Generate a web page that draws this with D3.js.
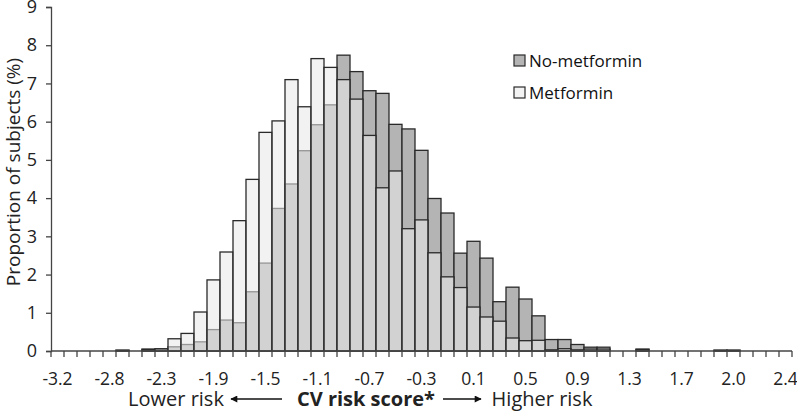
<!DOCTYPE html>
<html>
<head>
<meta charset="utf-8">
<script src="https://cdn.jsdelivr.net/npm/d3@7"></script>
<style>
  body { margin: 0; background: #fff; }
  svg { display: block; font-family: 'Open Sans', 'Noto Sans', sans-serif; }
</style>
</head>
<body>
<div id="chart"></div>
<script>

// bin midpoints of the CV risk score (bin width 0.1)
var categories = [
  -3.15, -3.05, -2.95, -2.85, -2.75, -2.65, -2.55, -2.45, -2.35, -2.25,
  -2.15, -2.05, -1.95, -1.85, -1.75, -1.65, -1.55, -1.45, -1.35, -1.25,
  -1.15, -1.05, -0.95, -0.85, -0.75, -0.65, -0.55, -0.45, -0.35, -0.25,
  -0.15, -0.05, 0.05, 0.15, 0.25, 0.35, 0.45, 0.55, 0.65, 0.75,
  0.85, 0.95, 1.05, 1.15, 1.25, 1.35, 1.45, 1.55, 1.65, 1.75,
  1.85, 1.95, 2.05, 2.15, 2.25, 2.35, 2.45
];

var noMetformin = [
  0, 0, 0, 0, 0, 0.02, 0, 0.05, 0.04, 0.11,
  0.17, 0.24, 0.56, 0.81, 0.74, 1.55, 2.30, 3.73, 4.37, 5.24,
  5.92, 6.44, 7.74, 7.31, 6.81, 6.74, 5.93, 5.81, 5.25, 3.99,
  3.61, 2.56, 2.87, 2.43, 1.29, 1.67, 1.36, 0.92, 0.30, 0.30,
  0.17, 0.10, 0.10, 0, 0, 0.05, 0, 0, 0, 0,
  0, 0.02, 0.02, 0, 0, 0, 0
];

var metformin = [
  0, 0, 0, 0, 0, 0.02, 0, 0.04, 0.06, 0.32,
  0.46, 1.02, 1.86, 2.59, 3.41, 4.49, 5.72, 6.02, 7.10, 6.39,
  7.65, 7.42, 7.10, 6.59, 5.64, 4.27, 4.71, 3.20, 3.43, 2.57,
  1.94, 1.66, 1.15, 0.89, 0.78, 0.34, 0.27, 0.28, 0.03, 0.06,
  0.03, 0.05, 0.05, 0, 0, 0.04, 0, 0, 0, 0,
  0, 0.02, 0.02, 0, 0, 0, 0
];

// labels shown under every 4th bin
var tickLabels = ['-3.2', '-2.8', '-2.3', '-1.9', '-1.5', '-1.1', '-0.7', '-0.3',
  '0.1', '0.5', '0.9', '1.3', '1.7', '2.0', '2.4'];

var yTicks = [0, 1, 2, 3, 4, 5, 6, 7, 8, 9];

var seriesNames = ['No-metformin', 'Metformin'];


var width = 797, height = 412;
var margin = {left: 51, right: 5, top: 7, bottom: 61};

var svg = d3.select('#chart').append('svg')
  .attr('width', width).attr('height', height);

var x = d3.scaleBand()
  .domain(categories)
  .range([margin.left, width - margin.right])
  .paddingInner(0).paddingOuter(0);

var y = d3.scaleLinear()
  .domain([0, 9])
  .range([height - margin.bottom, margin.top]);

var strokeCol = '#2a2a2a';

// no-metformin bars first, metformin laid over half transparent
var gGrey = svg.append('g');
gGrey.selectAll('rect')
  .data(noMetformin.map(function (v, i) { return {c: categories[i], v: v}; })
    .filter(function (d) { return d.v > 0; }))
  .enter().append('rect')
  .attr('x', function (d) { return x(d.c); })
  .attr('width', x.bandwidth())
  .attr('y', function (d) { return y(d.v); })
  .attr('height', function (d) { return y(0) - y(d.v); })
  .attr('fill', '#b4b4b4')
  .attr('stroke', strokeCol)
  .attr('stroke-width', 1.3);

var gWhite = svg.append('g');
gWhite.selectAll('rect')
  .data(metformin.map(function (v, i) { return {c: categories[i], v: v}; })
    .filter(function (d) { return d.v > 0; }))
  .enter().append('rect')
  .attr('x', function (d) { return x(d.c); })
  .attr('width', x.bandwidth())
  .attr('y', function (d) { return y(d.v); })
  .attr('height', function (d) { return y(0) - y(d.v); })
  .attr('fill', '#e8e8e8')
  .attr('fill-opacity', 0.57)
  .attr('stroke', strokeCol)
  .attr('stroke-width', 1.3);


// y axis
var yAxis = d3.axisLeft(y).tickValues(yTicks).tickSize(5).tickPadding(9)
  .tickFormat(d3.format('d'));
var gy = svg.append('g').attr('transform', 'translate(' + margin.left + ',0)').call(yAxis);
gy.select('.domain').attr('stroke', '#444').attr('stroke-width', 1.3);
gy.selectAll('.tick line').attr('stroke', '#444').attr('stroke-width', 1.3);
gy.selectAll('text').attr('font-size', 18).attr('fill', '#222')
  .attr('font-family', "'Open Sans', 'Noto Sans', sans-serif");

// x axis: a tick at every bin edge, labels under every 4th bin
var gx = svg.append('g').attr('transform', 'translate(0,' + y(0) + ')');
gx.append('line')
  .attr('x1', margin.left).attr('x2', width - margin.right)
  .attr('stroke', '#444').attr('stroke-width', 1.3);

var edges = categories.map(function (c) { return x(c); });
edges.push(x(categories[categories.length - 1]) + x.bandwidth());
gx.selectAll('.edge').data(edges).enter().append('line')
  .attr('class', 'edge')
  .attr('x1', function (d) { return d; }).attr('x2', function (d) { return d; })
  .attr('y1', 0).attr('y2', 6)
  .attr('stroke', '#444').attr('stroke-width', 1.3);

var labelled = categories.filter(function (c, i) { return i % 4 === 0; });
gx.selectAll('.xl').data(labelled).enter().append('text')
  .attr('class', 'xl')
  .attr('x', function (d) { return x(d) + x.bandwidth() / 2; })
  .attr('y', 34)
  .attr('text-anchor', 'middle')
  .attr('font-size', 17.5).attr('fill', '#222')
  .text(function (d, i) { return tickLabels[i]; });

// y title
svg.append('text')
  .attr('transform', 'translate(20,172) rotate(-90)')
  .attr('text-anchor', 'middle')
  .attr('font-size', 19).attr('fill', '#222')
  .text('Proportion of subjects (%)');

// x title with arrows
var arrowY = 399;
svg.append('defs').append('marker')
  .attr('id', 'ah').attr('viewBox', '0 0 10 10')
  .attr('refX', 9).attr('refY', 5)
  .attr('markerWidth', 10).attr('markerHeight', 7)
  .attr('markerUnits', 'userSpaceOnUse')
  .attr('orient', 'auto')
  .append('path').attr('d', 'M0,0L10,5L0,10z').attr('fill', '#111');

svg.append('text').attr('x', 176).attr('y', 406).attr('text-anchor', 'middle')
  .attr('font-size', 20).attr('fill', '#222').text('Lower risk');
svg.append('line').attr('x1', 282).attr('x2', 231).attr('y1', arrowY).attr('y2', arrowY)
  .attr('stroke', '#111').attr('stroke-width', 1.3).attr('marker-end', 'url(#ah)');
svg.append('text').attr('x', 366).attr('y', 406).attr('text-anchor', 'middle')
  .attr('font-size', 20).attr('font-weight', 'bold').attr('fill', '#222').text('CV risk score*');
svg.append('line').attr('x1', 443).attr('x2', 481).attr('y1', arrowY).attr('y2', arrowY)
  .attr('stroke', '#111').attr('stroke-width', 1.3).attr('marker-end', 'url(#ah)');
svg.append('text').attr('x', 542).attr('y', 406).attr('text-anchor', 'middle')
  .attr('font-size', 20).attr('fill', '#222').text('Higher risk');

// legend
var legend = svg.append('g').attr('transform', 'translate(514,55)');
var legFill = ['#b4b4b4', '#f3f3f3'];
seriesNames.forEach(function (name, i) {
  var row = legend.append('g').attr('transform', 'translate(0,' + (i * 32) + ')');
  row.append('rect').attr('width', 11).attr('height', 11)
    .attr('fill', legFill[i]).attr('stroke', strokeCol).attr('stroke-width', 1.2);
  row.append('text').attr('x', 15).attr('y', 11.5)
    .attr('font-size', 17).attr('fill', '#111').text(name);
});

</script>
</body>
</html>
